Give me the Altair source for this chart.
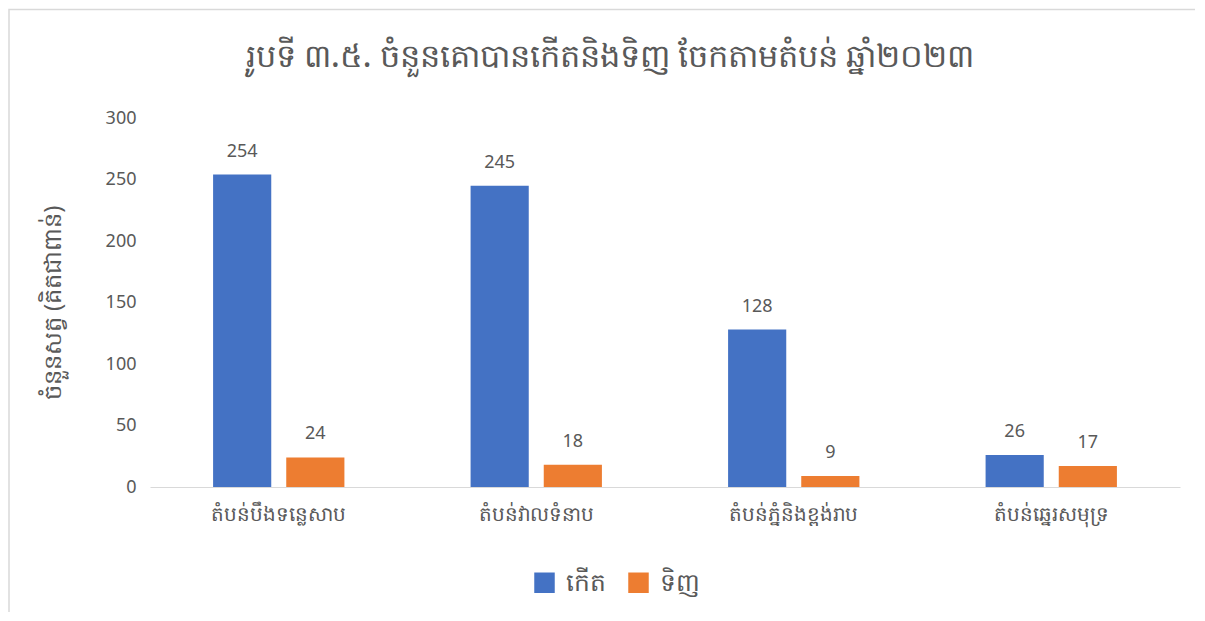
import altair as alt
import pandas as pd

regions = ["តំបន់បឹងទន្លេសាប", "តំបន់វាលទំនាប", "តំបន់ភ្នំនិងខ្ពង់រាប", "តំបន់ឆ្នេរសមុទ្រ"]
series = ["កើត", "ទិញ"]
born = [254, 245, 128, 26]
bought = [24, 18, 9, 17]
colors = ["#4472C4", "#ED7D31"]

rows = []
for i, r in enumerate(regions):
    rows.append({"region": r, "type": series[0], "value": born[i]})
    rows.append({"region": r, "type": series[1], "value": bought[i]})
df = pd.DataFrame(rows)

FONT = "Noto Sans"
GRAY = "#595959"

base = alt.Chart(df).encode(
    x=alt.X("region:N", sort=regions,
            scale=alt.Scale(paddingInner=0.49, paddingOuter=0.245),
            axis=alt.Axis(title=None, labelAngle=0, labelFontSize=20, labelColor=GRAY,
                          labelFont=FONT, ticks=False, domainColor="#D9D9D9",
                          labelPadding=17, domainWidth=1)),
    xOffset=alt.XOffset("type:N", sort=series,
                        scale=alt.Scale(paddingInner=0.205, paddingOuter=0)),
)

bars = base.mark_bar().encode(
    y=alt.Y("value:Q", scale=alt.Scale(domain=[0, 300]),
            axis=alt.Axis(values=[0, 50, 100, 150, 200, 250, 300], title="ចំនួនសត្វ (គិតជាពាន់)",
                          titleFontSize=24, titleColor=GRAY, titleFont=FONT, titleFontWeight="normal",
                          titlePadding=40, labelFontSize=18, labelColor=GRAY, labelFont=FONT,
                          ticks=False, domain=False, grid=False, labelPadding=14)),
    color=alt.Color("type:N", sort=series,
                    scale=alt.Scale(domain=series, range=colors),
                    legend=alt.Legend(title=None, orient="none", direction="horizontal",
                                      legendX=382, legendY=452, symbolType="square",
                                      symbolSize=420, labelFontSize=25, labelColor=GRAY,
                                      labelFont=FONT, labelOffset=9, columnPadding=20,
                                      symbolStrokeWidth=0)),
)

labels = base.mark_text(dy=-14, fontSize=18, color=GRAY, font=FONT, baseline="bottom").encode(
    y=alt.Y("value:Q"),
    text=alt.Text("value:Q"),
)

border = alt.Chart(pd.DataFrame({"a": [0]})).mark_rect(
    fill=None, stroke="#D9D9D9", strokeWidth=1.5
).encode(
    x=alt.value(-141), x2=alt.value(1080),
    y=alt.value(-108.5), y2=alt.value(540),
)

chart = alt.layer(border, bars, labels).properties(
    width=1030, height=369,
    title=alt.TitleParams("រូបទី ៣.៥. ចំនួនគោបានកើតនិងទិញ ចែកតាមតំបន់ ឆ្នាំ២០២៣",
                          fontSize=32, color=GRAY, font=FONT, fontWeight=500,
                          anchor="middle", frame="group", dx=-55, offset=-65),
    autosize=alt.AutoSizeParams(type="none"),
    padding={"left": 142, "top": 110, "right": 15, "bottom": 125},
).configure_view(stroke=None)

chart.save("out.html", embed_options={"renderer": "svg", "actions": False})
